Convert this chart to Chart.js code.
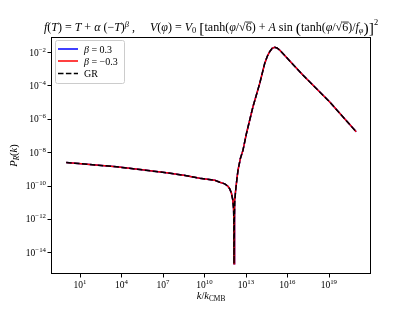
<!DOCTYPE html>
<html>
<head>
<meta charset="utf-8">
<script src="https://cdn.jsdelivr.net/npm/chart.js@4.4.1/dist/chart.umd.min.js"></script>
<style>
  html, body { margin: 0; padding: 0; background: #fff; }
  #wrap { width: 412px; height: 309px; }
</style>
</head>
<body>
<div id="wrap"><canvas id="c" width="412" height="309"></canvas></div>
<script>
// values, as log10 of k/k_CMB and log10 of P_R(k)
const logK = [0.0, 1.5, 3.65, 5.5, 7.26, 8.5, 9.66, 10.75, 11.11, 11.47, 11.7, 11.83, 11.95, 12.05,
  12.11, 12.13, 12.14, 12.16, 12.2, 12.26, 12.35, 12.43, 12.6, 12.79, 13.04, 13.51, 14.0, 14.36,
  14.55, 14.72, 14.9, 15.08, 15.25, 15.44, 17.12, 19.05, 20.98];
const logP_GR = [-8.62, -8.72, -8.88, -9.06, -9.24, -9.38, -9.56, -9.68, -9.8, -9.9, -10.04, -10.2, -10.45, -10.85,
  -11.4, -12.2, -14.68, -12.0, -10.9, -10.28, -9.6, -9.08, -8.38, -7.88, -6.88, -5.28, -3.88, -2.68,
  -2.25, -1.98, -1.78, -1.72, -1.76, -1.88, -3.38, -4.98, -6.78];
// the two beta curves lie on top of GR in the picture
const logP_betaPos = logP_GR.slice();
const logP_betaNeg = logP_GR.slice();

const xTickExp = [1, 4, 7, 10, 13, 16, 19];
const yTickExp = [-2, -4, -6, -8, -10, -12, -14];
const legendLabels = ['0.3', '\u22120.3', 'GR'];

const SERIF = '"Liberation Serif", "DejaVu Serif", serif';

function pts(lp) {
  return logK.map((lk, i) => ({ x: Math.pow(10, lk), y: Math.pow(10, lp[i]) }));
}

function drawRuns(ctx, runs, x, y, size, align) {
  const fontOf = r => (r.f === 'i' ? 'italic ' : '') + (size * (r.s || 1)).toFixed(2) + 'px ' + SERIF;
  let total = 0;
  runs.forEach(r => { ctx.font = fontOf(r); r.w = ctx.measureText(r.t).width; total += r.w; });
  let cx = align === 'center' ? x - total / 2 : (align === 'right' ? x - total : x);
  runs.forEach(r => {
    ctx.font = fontOf(r);
    ctx.textAlign = 'left';
    ctx.textBaseline = 'alphabetic';
    ctx.fillText(r.t, cx, y + (r.dy || 0));
    if (r.over) {
      ctx.fillRect(cx, y - size * 0.78, r.w + 0.5, 0.8);
    }
    cx += r.w;
  });
  return total;
}

function pow10(ctx, e, x, y, align) {
  const s = String(e).replace('-', '\u2212');
  return drawRuns(ctx, [{ t: '10', f: 'r' }, { t: s, f: 'r', s: 0.72, dy: -4 }], x, y, 9.5, align);
}

const overlay = {
  id: 'overlay',
  afterDraw(chart) {
    const ctx = chart.ctx;
    const a = chart.chartArea;
    const xs = chart.scales.x, ys = chart.scales.y;
    ctx.save();
    ctx.fillStyle = '#000';
    ctx.strokeStyle = '#000';
    // frame
    ctx.lineWidth = 1;
    ctx.strokeRect(a.left + 0.5, a.top + 0.5, a.right - a.left - 1, a.bottom - a.top - 1);
    // ticks + labels
    ctx.beginPath();
    xTickExp.forEach(e => {
      const px = Math.round(xs.getPixelForValue(Math.pow(10, e))) + 0.5;
      ctx.moveTo(px, a.bottom); ctx.lineTo(px, a.bottom + 3.5);
    });
    yTickExp.forEach(e => {
      const py = Math.round(ys.getPixelForValue(Math.pow(10, e))) + 0.5;
      ctx.moveTo(a.left, py); ctx.lineTo(a.left - 3.5, py);
    });
    ctx.stroke();
    xTickExp.forEach(e => pow10(ctx, e, xs.getPixelForValue(Math.pow(10, e)), a.bottom + 14, 'center'));
    yTickExp.forEach(e => pow10(ctx, e, a.left - 5, ys.getPixelForValue(Math.pow(10, e)) + 3.5, 'right'));

    // x label
    drawRuns(ctx, [{ t: 'k', f: 'i' }, { t: '/', f: 'r' }, { t: 'k', f: 'i' }, { t: 'CMB', f: 'r', s: 0.7, dy: 2 }],
      (a.left + a.right) / 2, 299, 10.5, 'center');
    // y label
    ctx.save();
    ctx.translate(17, (a.top + a.bottom) / 2);
    ctx.rotate(-Math.PI / 2);
    drawRuns(ctx, [{ t: 'P', f: 'i' }, { t: 'R', f: 'i', s: 0.7, dy: 2 }, { t: '(', f: 'r' }, { t: 'k', f: 'i' }, { t: ')', f: 'r' }],
      0, 0, 10.5, 'center');
    ctx.restore();

    // title
    const title = [
      { t: 'f', f: 'i' }, { t: '(', f: 'r' }, { t: 'T', f: 'i' }, { t: ') = ', f: 'r' }, { t: 'T', f: 'i' },
      { t: ' + ', f: 'r' }, { t: '\u03b1', f: 'i' }, { t: ' (\u2212', f: 'r' }, { t: 'T', f: 'i' }, { t: ')', f: 'r' },
      { t: '\u03b2', f: 'i', s: 0.7, dy: -4.5 }, { t: ' ,     ', f: 'r' },
      { t: 'V', f: 'i' }, { t: '(', f: 'r' }, { t: '\u03c6', f: 'i' }, { t: ') = ', f: 'r' }, { t: 'V', f: 'i' },
      { t: '0', f: 'r', s: 0.7, dy: 2 }, { t: ' ', f: 'r' }, { t: '[', f: 'r', s: 1.3, dy: 1.5 },
      { t: 'tanh(', f: 'r' }, { t: '\u03c6', f: 'i' }, { t: '/\u221a', f: 'r' }, { t: '6', f: 'r', over: true },
      { t: ') + ', f: 'r' }, { t: 'A', f: 'i' }, { t: ' sin ', f: 'r' }, { t: '(', f: 'r', s: 1.3, dy: 1.5 },
      { t: 'tanh(', f: 'r' }, { t: '\u03c6', f: 'i' }, { t: '/\u221a', f: 'r' }, { t: '6', f: 'r', over: true },
      { t: ')/', f: 'r' }, { t: 'f', f: 'i' }, { t: '\u03c6', f: 'i', s: 0.7, dy: 2 },
      { t: ')', f: 'r', s: 1.3, dy: 1.5 }, { t: ']', f: 'r', s: 1.3, dy: 1.5 }, { t: '2', f: 'r', s: 0.7, dy: -6 }
    ];
    drawRuns(ctx, title, (a.left + a.right) / 2, 31, 12, 'center');

    // legend
    const lx = a.left + 4, ly = a.top + 3, lw = 69, lh = 43;
    ctx.fillStyle = 'rgba(255,255,255,0.8)';
    ctx.strokeStyle = '#cccccc';
    ctx.lineWidth = 1;
    ctx.beginPath();
    ctx.roundRect(lx + 0.5, ly + 0.5, lw, lh, 2);
    ctx.fill(); ctx.stroke();
    const rowY = [ly + 9, ly + 21, ly + 33.5];
    chart.data.datasets.forEach((ds, i) => {
      ctx.strokeStyle = ds.borderColor;
      ctx.lineWidth = 1.5;
      ctx.setLineDash(ds.borderDash || []);
      ctx.beginPath();
      ctx.moveTo(lx + 3, rowY[i]); ctx.lineTo(lx + 23, rowY[i]);
      ctx.stroke();
      ctx.setLineDash([]);
      ctx.fillStyle = '#000';
      const runs = i < 2 ? [{ t: '\u03b2', f: 'i' }, { t: ' = ' + legendLabels[i], f: 'r' }] : [{ t: legendLabels[i], f: 'r' }];
      drawRuns(ctx, runs, lx + 29, rowY[i] + 3.5, 10, 'left');
    });
    ctx.restore();
  }
};

new Chart(document.getElementById('c'), {
  type: 'line',
  data: {
    datasets: [
      { label: '\u03b2 = 0.3', data: pts(logP_betaPos), borderColor: '#0000ff', borderWidth: 1.5, order: 3 },
      { label: '\u03b2 = \u22120.3', data: pts(logP_betaNeg), borderColor: '#ff0000', borderWidth: 1.5, order: 2 },
      { label: 'GR', data: pts(logP_GR), borderColor: '#000000', borderWidth: 1.5, borderDash: [5.5, 2.4], order: 1 }
    ]
  },
  options: {
    responsive: false,
    animation: false,
    elements: { point: { radius: 0 }, line: { tension: 0, fill: false } },
    layout: { padding: { left: 0, right: 41, top: 37, bottom: 0 } },
    plugins: { legend: { display: false }, tooltip: { enabled: false }, title: { display: false } },
    scales: {
      x: {
        type: 'logarithmic',
        min: Math.pow(10, -1.1),
        max: Math.pow(10, 22.05),
        grid: { display: false },
        border: { display: false },
        ticks: { display: false },
        afterFit: s => { s.height = 35; }
      },
      y: {
        type: 'logarithmic',
        min: Math.pow(10, -15.3),
        max: Math.pow(10, -1.1),
        grid: { display: false },
        border: { display: false },
        ticks: { display: false },
        afterFit: s => { s.width = 51; }
      }
    }
  },
  plugins: [overlay]
});
</script>
</body>
</html>
